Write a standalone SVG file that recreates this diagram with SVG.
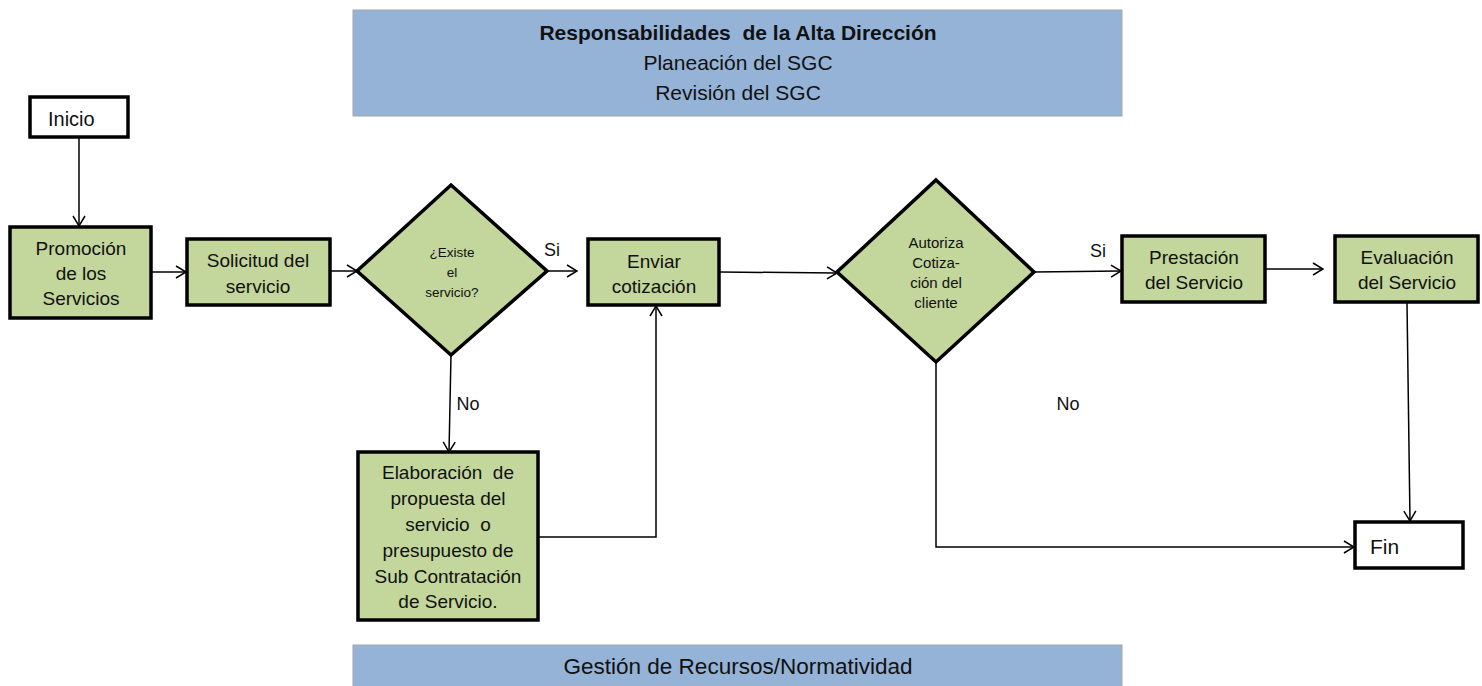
<svg xmlns="http://www.w3.org/2000/svg" width="1482" height="686" viewBox="0 0 1482 686">
<defs>
<style>
text{font-family:"Liberation Sans",Arial,sans-serif;fill:#111;text-anchor:middle;white-space:pre}
.band{fill:#95B3D7;stroke:#a6a6a6;stroke-width:1}
.box{fill:#C3D69B;stroke:#000;stroke-width:3.5}
.term{fill:#fff;stroke:#000;stroke-width:3.5}
.t{font-size:19px}
.d{font-size:13.5px}
.d2{font-size:15px}
.h{font-size:21px}
.c{fill:none;stroke:#000;stroke-width:1.5}
.lbl{font-size:18px}
</style>
<marker id="ah" viewBox="0 0 12 14" refX="11" refY="7" markerWidth="12" markerHeight="14" markerUnits="userSpaceOnUse" orient="auto">
<path d="M1,1 L11,7 L1,13" fill="none" stroke="#000" stroke-width="1.5"/>
</marker>
</defs>
<rect width="1482" height="686" fill="#fff"/>

<g id="top-band">
<rect class="band" x="353" y="10" width="769" height="106"/>
<text class="h" x="738" y="40" font-weight="bold" xml:space="preserve">Responsabilidades  de la Alta Dirección</text>
<text class="h" x="738" y="70">Planeación del SGC</text>
<text class="h" x="738" y="100">Revisión del SGC</text>
</g>

<g id="bottom-band">
<rect class="band" x="353" y="645" width="769" height="45"/>
<text class="h" x="738" y="674" style="font-size:22.5px">Gestión de Recursos/Normatividad</text>
</g>

<g id="connectors">
<line class="c" x1="79" y1="138" x2="79" y2="226" marker-end="url(#ah)"/>
<line class="c" x1="152" y1="272" x2="186" y2="272" marker-end="url(#ah)"/>
<line class="c" x1="331" y1="271" x2="357" y2="271" marker-end="url(#ah)"/>
<line class="c" x1="547" y1="271" x2="577" y2="271" marker-end="url(#ah)"/>
<line class="c" x1="451" y1="355" x2="449" y2="452" marker-end="url(#ah)"/>
<polyline class="c" points="539,537 656,537 656,306" marker-end="url(#ah)"/>
<line class="c" x1="720" y1="272" x2="837" y2="273" marker-end="url(#ah)"/>
<line class="c" x1="1034" y1="272" x2="1121" y2="271" marker-end="url(#ah)"/>
<line class="c" x1="1266" y1="269" x2="1323" y2="269" marker-end="url(#ah)"/>
<line class="c" x1="1407" y1="303" x2="1410" y2="521" marker-end="url(#ah)"/>
<polyline class="c" points="936,362 936,547 1354,547" marker-end="url(#ah)"/>
<text class="lbl" x="552" y="256">Si</text>
<text class="lbl" x="468" y="410">No</text>
<text class="lbl" x="1098" y="257">Si</text>
<text class="lbl" x="1068" y="410">No</text>
</g>

<g id="inicio">
<rect class="term" x="30" y="97" width="98" height="40"/>
<text class="t" x="48" y="126" style="text-anchor:start;font-size:20px">Inicio</text>
</g>

<g id="promocion">
<rect class="box" x="10" y="227" width="141" height="91"/>
<text class="t" x="81" y="255">Promoción</text>
<text class="t" x="81" y="280">de los</text>
<text class="t" x="81" y="305">Servicios</text>
</g>

<g id="solicitud">
<rect class="box" x="187" y="239" width="143" height="66"/>
<text class="t" x="258" y="267">Solicitud del</text>
<text class="t" x="258" y="293">servicio</text>
</g>

<g id="existe">
<polygon class="box" points="451,185 547,271 451,355 357,271"/>
<text class="d" x="452" y="257">¿Existe</text>
<text class="d" x="452" y="277">el</text>
<text class="d" x="452" y="297">servicio?</text>
</g>

<g id="enviar">
<rect class="box" x="588" y="239" width="131" height="66"/>
<text class="t" x="654" y="268">Enviar</text>
<text class="t" x="654" y="293">cotización</text>
</g>

<g id="elaboracion">
<rect class="box" x="358" y="452" width="180" height="168"/>
<text class="t" x="448" y="479" xml:space="preserve">Elaboración  de</text>
<text class="t" x="448" y="505">propuesta del</text>
<text class="t" x="448" y="531" xml:space="preserve">servicio  o</text>
<text class="t" x="448" y="557">presupuesto de</text>
<text class="t" x="448" y="583">Sub Contratación</text>
<text class="t" x="448" y="608">de Servicio.</text>
</g>

<g id="autoriza">
<polygon class="box" points="936,180 1034,272 936,362 837,272"/>
<text class="d2" x="936" y="248">Autoriza</text>
<text class="d2" x="936" y="268">Cotiza-</text>
<text class="d2" x="936" y="288">ción del</text>
<text class="d2" x="936" y="308">cliente</text>
</g>

<g id="prestacion">
<rect class="box" x="1122" y="236" width="143" height="66"/>
<text class="t" x="1194" y="264">Prestación</text>
<text class="t" x="1194" y="289">del Servicio</text>
</g>

<g id="evaluacion">
<rect class="box" x="1335" y="236" width="143" height="66"/>
<text class="t" x="1407" y="264">Evaluación</text>
<text class="t" x="1407" y="289">del Servicio</text>
</g>

<g id="fin">
<rect class="term" x="1355" y="522" width="108" height="46"/>
<text class="t" x="1370" y="554" style="text-anchor:start;font-size:21px">Fin</text>
</g>
</svg>
